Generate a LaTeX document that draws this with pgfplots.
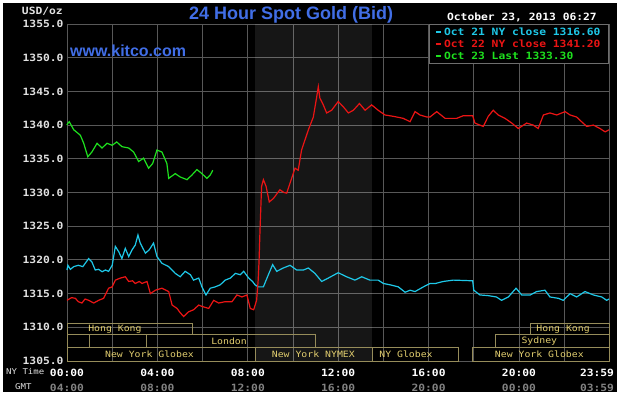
\documentclass[border=0pt]{standalone}
\usepackage{pgfplots}
\pgfplotsset{compat=1.18}
\usepackage{fontspec}
\setmainfont{Liberation Sans}
\newfontfamily\monob[FakeStretch=1.13]{DejaVu Sans Mono}
\definecolor{gridc}{RGB}{88,88,88}
\definecolor{cyanc}{RGB}{30,200,232}
\definecolor{redc}{RGB}{235,20,20}
\definecolor{greenc}{RGB}{30,225,30}
\definecolor{boxc}{RGB}{150,140,90}
\definecolor{sesst}{RGB}{225,205,110}
\definecolor{ylab}{RGB}{225,225,225}
\definecolor{gmtc}{RGB}{130,130,130}
\definecolor{titlec}{RGB}{65,110,230}
\definecolor{legc}{RGB}{110,110,110}
\begin{document}
\begin{tikzpicture}[x=1pt,y=1pt]
\path[use as bounding box] (0,0) rectangle (620,395);
\fill[white] (0,0) rectangle (620,395);
\fill[black] (3,3) rectangle (617,392);
\begin{axis}[at={(67pt,34pt)}, anchor=south west, scale only axis,
  width=542pt, height=337pt,
  xmin=0, xmax=23.983, ymin=1305, ymax=1355,
  clip=false,
  xtick={0,2,...,22},
  xticklabels={{00:00\\[3pt]\textcolor{gmtc}{04:00}},{},{04:00\\[3pt]\textcolor{gmtc}{08:00}},{},{08:00\\[3pt]\textcolor{gmtc}{12:00}},{},{12:00\\[3pt]\textcolor{gmtc}{16:00}},{},{16:00\\[3pt]\textcolor{gmtc}{20:00}},{},{20:00\\[3pt]\textcolor{gmtc}{00:00}},{}},
  extra x ticks={23.983},
  extra x tick labels={{23:59\\[3pt]\textcolor{gmtc}{03:59}}},
  extra x tick style={grid=none, xticklabel style={xshift=-12pt}},
  xticklabel style={align=center, text=white, font=\monob\bfseries\fontsize{10}{12}\selectfont, anchor=north, yshift=-4.5pt},
  ytick={1305,1310,...,1355},
  yticklabel style={text=ylab, font=\monob\bfseries\fontsize{10}{12}\selectfont,
    /pgf/number format/.cd, fixed, fixed zerofill, precision=1, 1000 sep={}, assume math mode=true},
  grid=major, major grid style={draw=gridc, line width=0.9pt},
  axis line style={draw=gridc, line width=0.9pt},
  tick style={draw=none},
  legend cell align=left,
  legend image code/.code={\draw[#1,line width=2pt] (0pt,0pt) -- (5pt,0pt);},
  legend style={at={(rel axis cs:1,1)}, anchor=north east, fill=black, draw=legc, line width=0.9pt,
    font=\monob\bfseries\fontsize{10}{11.5}\selectfont, inner xsep=6pt, inner ysep=1pt, row sep=-1pt},
]
\fill[white, fill opacity=0.085] (axis cs:8.333,1305) rectangle (axis cs:13.5,1355);
% session boxes
\begin{scope}[boxc, line width=0.9pt]
\draw (axis cs:0,1308.9) rectangle (axis cs:5.53,1310.6);
\draw (axis cs:20.5,1308.9) rectangle (axis cs:23.983,1310.6);
\draw (axis cs:0,1307.0) rectangle (axis cs:1.0,1308.9);
\draw (axis cs:3.5,1307.0) rectangle (axis cs:11.0,1308.9);
\draw (axis cs:18.95,1307.0) rectangle (axis cs:23.983,1308.9);
\draw (axis cs:0,1305) rectangle (axis cs:8.333,1307.0);
\draw (axis cs:8.333,1305) rectangle (axis cs:13.5,1307.0);
\draw (axis cs:13.5,1305) rectangle (axis cs:17.3,1307.0);
\draw (axis cs:17.96,1305) rectangle (axis cs:23.983,1307.0);
\end{scope}
\begin{scope}[every node/.style={text=sesst, font=\monob\fontsize{8.7}{10}\selectfont, inner sep=0pt}]
\node at (axis cs:2.12,1309.75) {Hong Kong};
\node at (axis cs:21.95,1309.75) {Hong Kong};
\node at (axis cs:7.17,1307.95) {London};
\node at (axis cs:20.9,1307.95) {Sydney};
\node at (axis cs:3.65,1306.0) {New York Globex};
\node at (axis cs:10.9,1306.0) {New York NYMEX};
\node at (axis cs:15.0,1306.0) {NY Globex};
\node at (axis cs:20.9,1306.0) {New York Globex};
\end{scope}
\addplot[cyanc, line width=1.2pt] coordinates {
(0.0,1318.5)(0.04,1319.2)(0.15,1318.6)(0.3,1319.0)(0.5,1319.2)(0.7,1319.0)(0.96,1320.2)(1.1,1319.7)(1.25,1318.5)(1.4,1318.6)(1.55,1318.25)(1.7,1318.5)(1.84,1318.3)(2.0,1319.2)(2.14,1322.0)(2.29,1321.2)(2.43,1320.2)(2.58,1321.7)(2.73,1320.5)(2.88,1321.5)(3.02,1322.2)(3.14,1323.7)(3.24,1322.5)(3.47,1321.0)(3.64,1321.5)(3.83,1322.5)(3.98,1320.5)(4.2,1319.5)(4.5,1319.0)(4.79,1318.0)(5.01,1317.5)(5.23,1318.3)(5.46,1317.8)(5.6,1317.0)(5.83,1317.3)(5.97,1316.0)(6.15,1314.8)(6.34,1315.8)(6.56,1316.0)(6.78,1316.3)(7.0,1317.0)(7.23,1317.3)(7.45,1318.0)(7.67,1317.8)(7.82,1318.3)(8.04,1317.3)(8.21,1316.8)(8.32,1316.3)(8.46,1316.0)(8.69,1316.0)(8.91,1317.8)(9.1,1319.3)(9.28,1318.3)(9.57,1318.8)(9.87,1319.2)(10.16,1318.5)(10.46,1318.5)(10.68,1318.8)(10.97,1318.0)(11.27,1316.8)(11.56,1317.3)(12.0,1318.1)(12.37,1317.5)(12.74,1317.0)(13.04,1317.5)(13.4,1317.0)(13.77,1317.0)(14.0,1316.5)(14.3,1316.3)(14.66,1316.0)(14.96,1315.2)(15.18,1315.5)(15.4,1315.3)(15.77,1316.0)(16.06,1316.5)(16.3,1316.5)(16.65,1316.8)(17.1,1317.0)(17.95,1316.9)(18.0,1315.5)(18.27,1314.8)(18.64,1314.7)(19.0,1314.5)(19.23,1314.0)(19.53,1314.5)(19.87,1315.8)(20.12,1314.8)(20.5,1314.8)(20.78,1315.3)(21.15,1315.5)(21.37,1314.5)(21.74,1314.3)(21.96,1314.0)(22.26,1315.0)(22.55,1314.5)(22.92,1315.3)(23.29,1314.8)(23.66,1314.5)(23.88,1314.0)(23.98,1314.2)
};
\addlegendentry{\textcolor{cyanc}{Oct 21 NY close 1316.60}}
\addplot[redc, line width=1.2pt] coordinates {
(0.00,1314.0)(0.2,1314.4)(0.37,1314.3)(0.5,1313.8)(0.66,1313.6)(0.8,1314.2)(0.96,1314.0)(1.18,1313.6)(1.4,1314.0)(1.62,1314.3)(1.84,1315.8)(2.0,1316.0)(2.14,1317.0)(2.36,1317.3)(2.58,1317.5)(2.73,1316.8)(2.9,1316.9)(3.02,1316.5)(3.2,1316.8)(3.32,1316.5)(3.54,1316.8)(3.69,1315.0)(3.91,1315.5)(4.2,1315.8)(4.5,1315.3)(4.65,1313.3)(4.87,1312.8)(5.0,1312.2)(5.16,1311.6)(5.38,1312.3)(5.6,1312.6)(5.83,1313.3)(5.97,1313.1)(6.27,1312.8)(6.49,1314.0)(6.71,1313.6)(7.0,1313.8)(7.3,1313.8)(7.52,1314.8)(7.74,1314.5)(7.96,1314.8)(8.11,1312.8)(8.26,1312.6)(8.39,1314.0)(8.46,1317)(8.5,1320)(8.54,1324.4)(8.61,1330.9)(8.69,1331.9)(8.81,1330.9)(8.95,1328.6)(9.13,1329.1)(9.42,1330.4)(9.6,1330.0)(9.72,1329.9)(9.94,1332.1)(10.09,1333.6)(10.23,1333.3)(10.38,1336.3)(10.53,1337.8)(10.68,1339.3)(10.9,1341.2)(11.05,1344.2)(11.12,1345.7)(11.19,1344.0)(11.34,1343.0)(11.49,1341.8)(11.71,1342.2)(12.0,1343.5)(12.23,1342.7)(12.45,1341.8)(12.67,1342.2)(12.94,1343.2)(13.19,1342.2)(13.48,1343.0)(13.77,1342.2)(14.07,1341.5)(14.44,1341.3)(14.88,1341.0)(15.18,1340.5)(15.4,1342.0)(15.62,1341.5)(15.92,1341.2)(16.06,1341.2)(16.36,1342.0)(16.73,1341.0)(17.24,1341.0)(17.54,1341.4)(17.95,1341.4)(18.05,1340.3)(18.42,1339.8)(18.64,1341.3)(18.86,1342.2)(19.08,1341.5)(19.38,1341.0)(19.68,1340.3)(19.97,1339.5)(20.34,1340.3)(20.63,1340.0)(20.85,1339.5)(21.08,1341.5)(21.37,1341.8)(21.67,1341.5)(22.04,1342.0)(22.26,1341.5)(22.55,1341.2)(22.77,1340.5)(23.0,1339.8)(23.29,1340.0)(23.58,1339.5)(23.81,1339.0)(23.98,1339.3)
};
\addlegendentry{\textcolor{redc}{Oct 22 NY close 1341.20}}
\addplot[greenc, line width=1.2pt] coordinates {
(0.0,1340.0)(0.04,1340.3)(0.1,1340.5)(0.3,1339.3)(0.59,1338.5)(0.74,1337.3)(0.92,1335.3)(1.1,1336.0)(1.33,1337.3)(1.55,1336.6)(1.77,1337.3)(2.0,1337.0)(2.2,1337.5)(2.43,1336.8)(2.73,1336.6)(2.95,1336.0)(3.17,1334.6)(3.39,1335.1)(3.61,1333.6)(3.79,1334.3)(3.98,1336.3)(4.2,1336.0)(4.42,1334.3)(4.5,1332.1)(4.79,1332.8)(5.01,1332.3)(5.31,1331.9)(5.53,1332.6)(5.75,1333.4)(5.97,1332.8)(6.19,1332.1)(6.34,1332.6)(6.45,1333.3)
};
\addlegendentry{\textcolor{greenc}{Oct 23 Last 1333.30}}
\end{axis}
\node[anchor=base, text=titlec, font=\bfseries\fontsize{18}{20}\selectfont] at (291,375) {24 Hour Spot Gold (Bid)};
\node[anchor=base west, text=titlec, font=\bfseries\fontsize{16}{18}\selectfont, inner sep=0pt] at (70,338) {www.kitco.com};
\node[anchor=base east, text=white, font=\monob\bfseries\fontsize{10}{12}\selectfont, inner sep=0pt] at (597,374) {October 23, 2013 06:27};
\node[anchor=east, text=ylab, font=\monob\bfseries\fontsize{10}{12}\selectfont, inner sep=0pt] at (63,384) {USD/oz};
\node[anchor=west, text=ylab, font=\monob\fontsize{8}{10}\selectfont, inner sep=0pt] at (6,23) {NY Time};
\node[anchor=west, text=ylab, font=\monob\fontsize{8}{10}\selectfont, inner sep=0pt] at (15,8) {GMT};
\end{tikzpicture}
\end{document}
